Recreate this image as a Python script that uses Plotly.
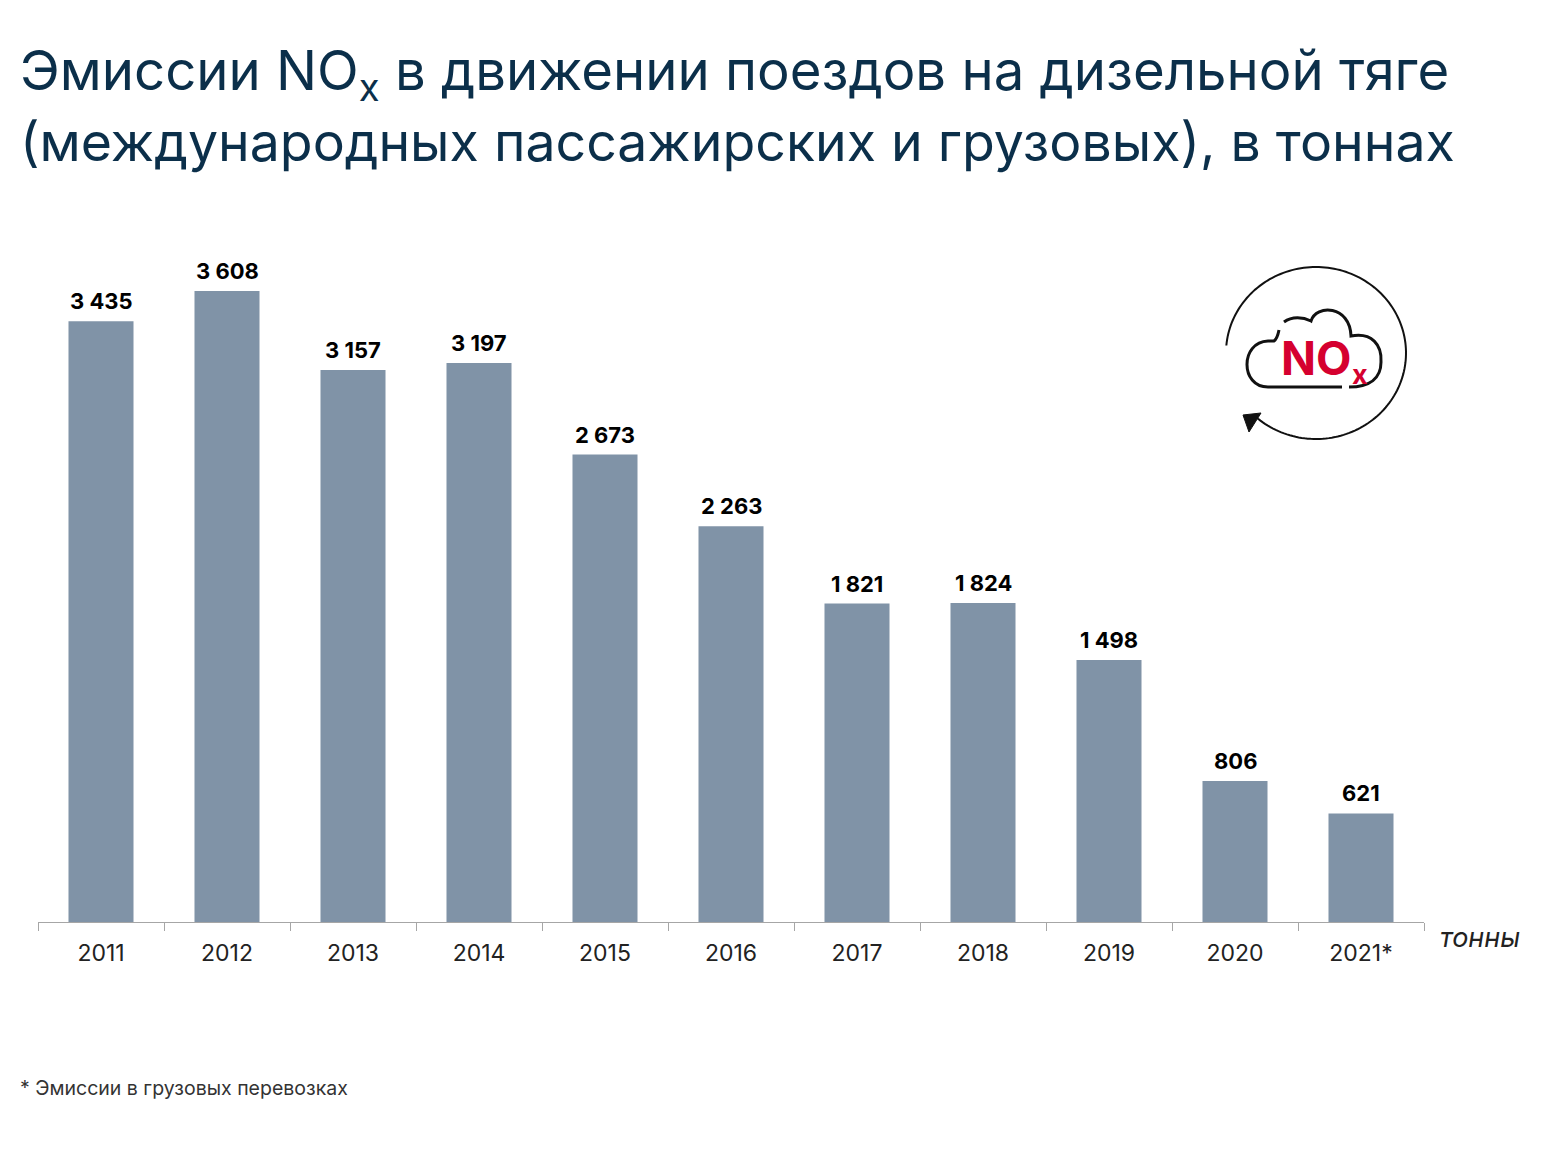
import plotly.graph_objects as go
import numpy as np

years = ["2011", "2012", "2013", "2014", "2015", "2016", "2017", "2018", "2019", "2020", "2021*"]
emissions = [3435, 3608, 3157, 3197, 2673, 2263, 1821, 1824, 1498, 806, 621]
value_labels = ["3 435", "3 608", "3 157", "3 197", "2 673", "2 263", "1 821", "1 824", "1 498", "806", "621"]

NAVY = "#0b2f4a"
BAR = "#8093a7"
FONT = "Inter, 'Noto Sans', sans-serif"

W, H = 1566, 1161
PAGE_PAD = 8  # the browser's body margin around the figure
X0, X1 = 38, 1424
Y0, Y_TOP = 230, 922
y_max = 3608 * (Y_TOP - Y0) / (Y_TOP - 291)

fig = go.Figure()
fig.add_trace(go.Bar(
    x=years, y=emissions,
    width=0.516,
    marker=dict(color=BAR, line=dict(width=0)),
    hoverinfo="x+y",
))


# page pixels -> paper coordinates of the plot area
def px_x(v):
    return (v - X0) / (X1 - X0)


def px_y(v):
    return 1 - (v - Y0) / (Y_TOP - Y0)


def svg_path(cmds):
    out = []
    for cmd, pts in cmds:
        if cmd == "L":
            out.extend(f"L {px_x(a):.5f},{px_y(b):.5f}" for a, b in pts)
        else:
            out.append(cmd + " " + " ".join(f"{px_x(a):.5f},{px_y(b):.5f}" for a, b in pts))
    return " ".join(out)


# icon: open circle with an arrow head, cloud outline
cx, cy, rx, ry = 1316, 353, 90, 86
circle_pts = [(cx + rx * np.cos(a), cy - ry * np.sin(a)) for a in np.radians(np.linspace(175, -132, 160))]
circle_path = svg_path([("M", circle_pts[:1]), ("L", circle_pts[1:])])

cloud_main = svg_path([
    ("M", [(1342, 387)]),
    ("L", [(1268, 387)]),
    ("C", [(1240, 387), (1240, 342), (1268, 341)]),
    ("L", [(1274, 341)]),
    ("C", [(1277, 339), (1278, 335), (1279, 330)]),
])
cloud_top = svg_path([
    ("M", [(1284, 322)]),
    ("C", [(1292, 316), (1303, 317), (1311, 321)]),
    ("C", [(1316, 304), (1350, 305), (1351, 336)]),
    ("C", [(1372, 332), (1382, 345), (1381, 362)]),
    ("C", [(1381, 378), (1370, 387), (1349, 387)]),
])
arrow_path = svg_path([("M", [(1243, 415)]), ("L", [(1261, 413), (1249, 432)])]) + " Z"

shapes = [
    dict(type="path", path=circle_path, xref="paper", yref="paper", line=dict(color="#111111", width=2)),
    dict(type="path", path=cloud_main, xref="paper", yref="paper", line=dict(color="#111111", width=3)),
    dict(type="path", path=cloud_top, xref="paper", yref="paper", line=dict(color="#111111", width=3)),
    dict(type="path", path=arrow_path, xref="paper", yref="paper", fillcolor="#111111", line=dict(color="#111111", width=1)),
]

annotations = [
    dict(x=px_x(18), y=px_y(73), text="Эмиссии NO<sub>x</sub> в движении поездов на дизельной тяге",
         font=dict(size=54.5, color=NAVY, family=FONT)),
    dict(x=px_x(18), y=px_y(142), text="(международных пассажирских и грузовых), в тоннах",
         font=dict(size=53.6, color=NAVY, family=FONT)),
    dict(x=px_x(18), y=px_y(1088), text="* Эмиссии в грузовых перевозках",
         font=dict(size=19.5, color="#333333", family=FONT)),
    dict(x=px_x(1438), y=px_y(937), text="<i>тонны</i>",
         font=dict(size=27, color="#222222", family=FONT)),
    dict(x=px_x(1279), y=px_y(358), text="<b>NO</b>",
         font=dict(size=46, color="#d5002f", family=FONT)),
    dict(x=px_x(1350), y=px_y(374), text="<b>x</b>",
         font=dict(size=27, color="#d5002f", family=FONT)),
]
for a in annotations:
    a.update(xref="paper", yref="paper", xanchor="left", yanchor="middle", showarrow=False)

# value labels sit a little higher above the bars than textposition="outside" allows
for i, (value, label) in enumerate(zip(emissions, value_labels)):
    annotations.append(dict(
        x=i, y=value, xref="x", yref="y", text=label, showarrow=False,
        xanchor="center", yanchor="bottom", yshift=5,
        font=dict(size=22, color="#000000", family=FONT, weight=700),
    ))

fig.update_layout(
    width=W - 2 * PAGE_PAD, height=H - 2 * PAGE_PAD,
    autosize=False,
    margin=dict(l=X0 - PAGE_PAD, r=W - PAGE_PAD - X1, t=Y0 - PAGE_PAD, b=H - PAGE_PAD - Y_TOP),
    paper_bgcolor="white",
    plot_bgcolor="white",
    showlegend=False,
    font=dict(family=FONT),
    shapes=shapes,
    annotations=annotations,
    xaxis=dict(
        type="category",
        categoryorder="array", categoryarray=years,
        range=[-0.5, len(years) - 0.5],
        showgrid=False,
        showline=True, linecolor="#a6a6a6", linewidth=1,
        ticks="outside", ticklen=8, tickcolor="#a6a6a6",
        tickson="boundaries",
        ticklabelstandoff=10,
        tickangle=0,
        tickfont=dict(size=23, color="#222222", family=FONT),
    ),
    yaxis=dict(range=[0, y_max], visible=False),
)

fig.write_html("out.html")
